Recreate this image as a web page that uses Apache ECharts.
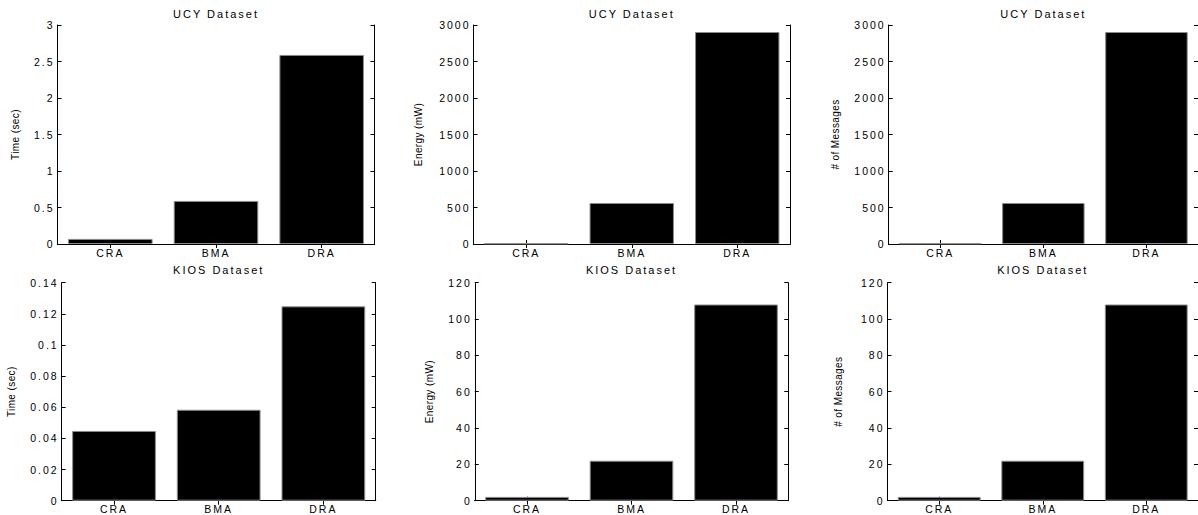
<!DOCTYPE html>
<html>
<head>
<meta charset="utf-8">
<script src="https://cdn.jsdelivr.net/npm/echarts@6/dist/echarts.min.js"></script>
<style>
  html, body { margin: 0; padding: 0; background: #fff; }
  #chart { width: 1198px; height: 515px; }
  #chart svg text { letter-spacing: 2px; }
  #chart svg text[style*="NmF"], #chart svg text[font-family*="NmF"] { letter-spacing: 0.4px; }
</style>
</head>
<body>
<div id="chart"></div>
<script>
// ---- data ----
const categories = ['CRA', 'BMA', 'DRA'];
const ucyTime = [0.07, 0.59, 2.59];
const ucyEnergy = [8, 562, 2904];
const ucyMessages = [8, 562, 2904];
const kiosTime = [0.0448, 0.0584, 0.1248];
const kiosEnergy = [2.1, 22, 108];
const kiosMessages = [2.1, 22, 108];
const titles = ['UCY Dataset', 'UCY Dataset', 'UCY Dataset', 'KIOS Dataset', 'KIOS Dataset', 'KIOS Dataset'];
const yNames = ['Time (sec)', 'Energy (mW)', '# of Messages', 'Time (sec)', 'Energy (mW)', '# of Messages'];
const yMax = [3, 3000, 3000, 0.14, 120, 120];
const yStep = [0.5, 500, 500, 0.02, 20, 20];
const seriesData = [ucyTime, ucyEnergy, ucyMessages, kiosTime, kiosEnergy, kiosMessages];

// ---- layout ----
const grids = [
  { left: 57.5, top: 25, width: 317, height: 219 },
  { left: 473.5, top: 25, width: 316.5, height: 219 },
  { left: 888.7, top: 25, width: 316, height: 219 },
  { left: 61.7, top: 282.7, width: 314, height: 218 },
  { left: 474.75, top: 282.7, width: 313.5, height: 218 },
  { left: 887.5, top: 282.7, width: 313, height: 218 }
];
const nameGaps = [37, 50, 48, 45, 40, 44];
const titleGaps = [6, 6, 6, 7, 7, 7];

const FONT = 'Liberation Sans, Arial, Helvetica, sans-serif';
const NFONT = 'NmF, Liberation Sans, Arial, sans-serif';

function fmt(v) {
  return String(parseFloat(v.toFixed(6)));
}

const xAxes = [], yAxes = [], series = [];
grids.forEach((g, i) => {
  xAxes.push({
    type: 'category', gridIndex: i, data: categories, position: 'bottom',
    axisLine: { show: true, lineStyle: { color: '#000', width: 1 } },
    axisTick: { show: true, inside: true, alignWithLabel: true, length: 4, lineStyle: { color: '#000' } },
    axisLabel: { color: '#000', fontSize: 10.5, fontFamily: FONT, margin: 3 },
    splitLine: { show: false }
  });
  xAxes.push({
    type: 'category', gridIndex: i, data: categories, position: 'top',
    name: titles[i], nameLocation: 'middle', nameGap: titleGaps[i],
    nameTextStyle: { color: '#000', fontSize: 11, fontFamily: FONT },
    axisLine: { show: true, lineStyle: { color: '#000', width: 1 } },
    axisTick: { show: true, inside: true, alignWithLabel: true, length: 4, lineStyle: { color: '#000' } },
    axisLabel: { show: false },
    splitLine: { show: false }
  });
  yAxes.push({
    type: 'value', gridIndex: i, position: 'left', min: 0, max: yMax[i], interval: yStep[i],
    name: yNames[i], nameLocation: 'middle', nameGap: nameGaps[i],
    nameTextStyle: { color: '#000', fontSize: 10, fontFamily: NFONT },
    axisLine: { show: true, lineStyle: { color: '#000', width: 1 } },
    axisTick: { show: true, inside: true, length: 4, lineStyle: { color: '#000' } },
    axisLabel: { color: '#000', fontSize: 10.5, fontFamily: FONT, margin: 3, formatter: fmt },
    splitLine: { show: false }
  });
  yAxes.push({
    type: 'value', gridIndex: i, position: 'right', min: 0, max: yMax[i], interval: yStep[i],
    axisLine: { show: true, lineStyle: { color: '#000', width: 1 } },
    axisTick: { show: true, inside: true, length: 4, lineStyle: { color: '#000' } },
    axisLabel: { show: false },
    splitLine: { show: false }
  });
  series.push({
    type: 'bar', xAxisIndex: i * 2, yAxisIndex: i * 2,
    data: seriesData[i], barCategoryGap: '20%',
    itemStyle: { color: '#000', borderColor: '#8a8a8a', borderWidth: 1 },
    silent: true, animation: false
  });
});

const chart = echarts.init(document.getElementById('chart'), null, { renderer: 'svg' });
chart.setOption({
  animation: false,
  backgroundColor: '#fff',
  grid: grids.map(g => Object.assign({ containLabel: false, show: false }, g)),
  xAxis: xAxes,
  yAxis: yAxes,
  series: series
});
</script>
</body>
</html>
